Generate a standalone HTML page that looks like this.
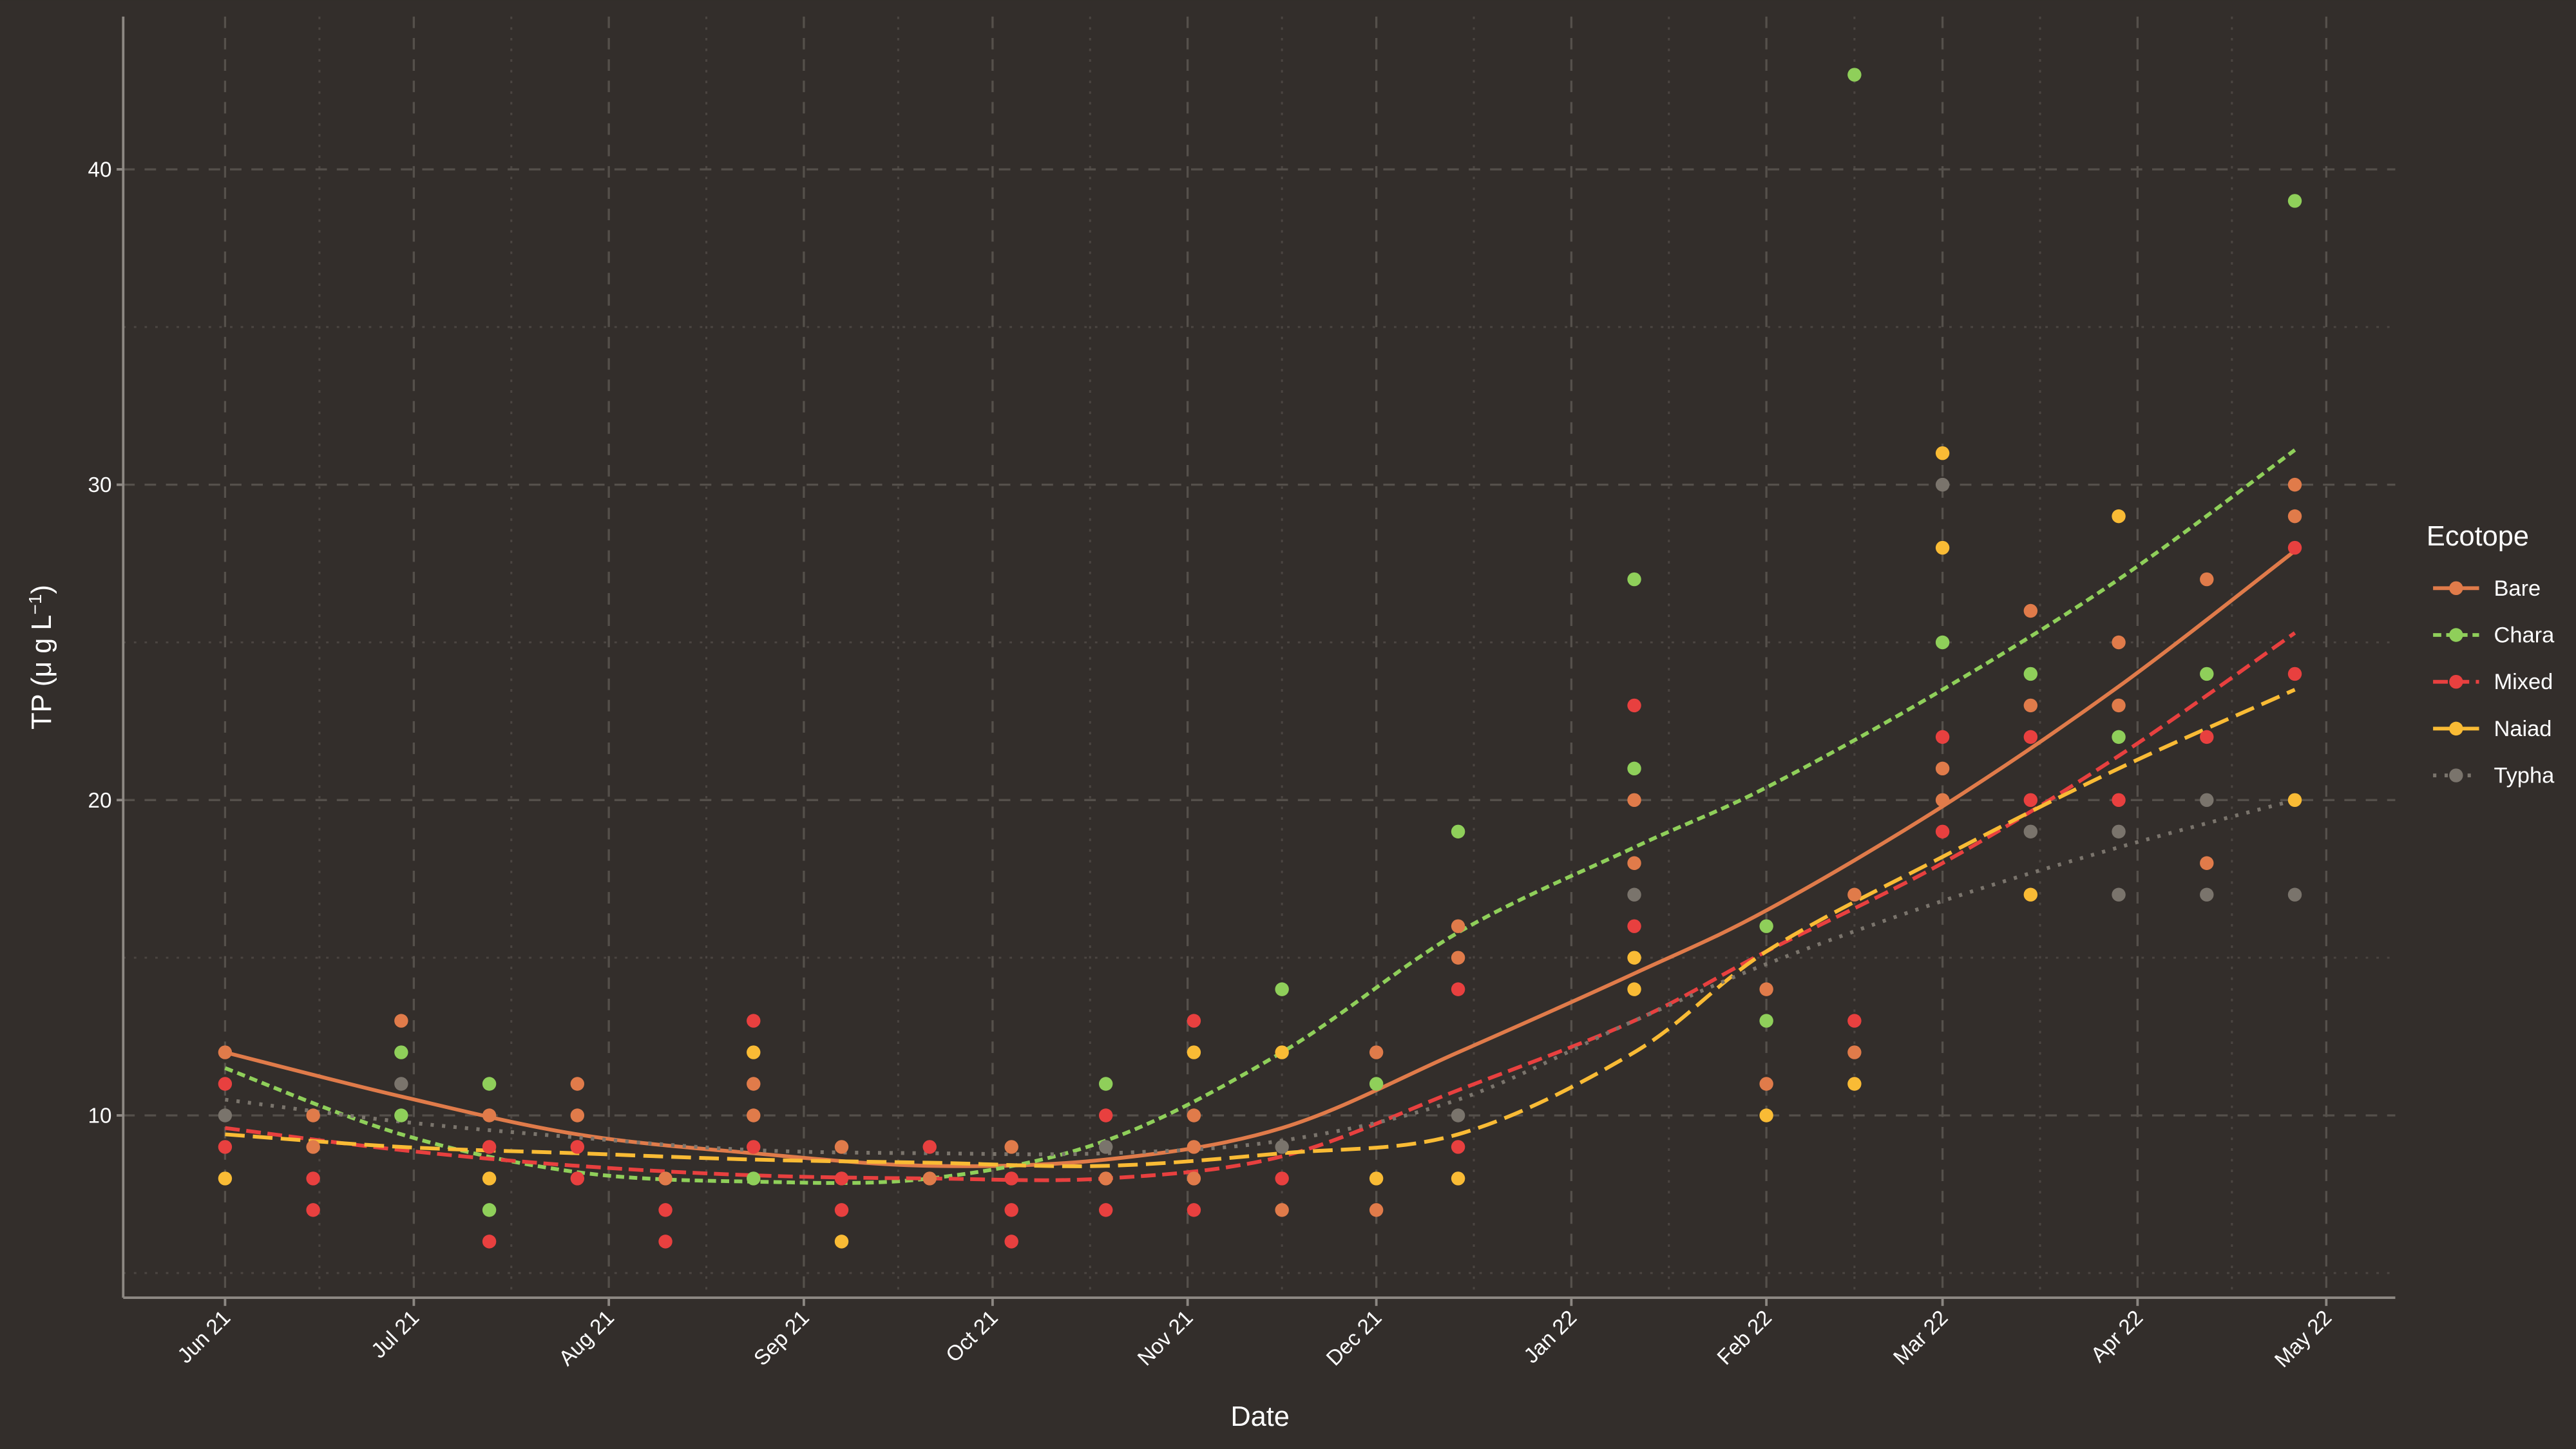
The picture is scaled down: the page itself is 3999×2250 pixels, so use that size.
<!DOCTYPE html>
<html><head><meta charset="utf-8"><style>
html,body{margin:0;padding:0;background:#332e2b;}
svg{display:block;font-family:"Liberation Sans",sans-serif;}
</style></head><body>
<svg id="chart" width="3999" height="2250" viewBox="0 0 1568 882" xmlns="http://www.w3.org/2000/svg">
<rect x="0" y="0" width="1568" height="882" fill="#332e2b"/>
<g id="grid"></g>
<g id="lines"></g>
<g id="points"></g>
<g id="axes"></g>
<text x="767" y="868" fill="#ffffff" font-size="17" text-anchor="middle">Date</text>
<text transform="translate(31,400) rotate(-90)" fill="#ffffff" font-size="17" text-anchor="middle">TP (μ g L<tspan dy="-6" font-size="11">−1</tspan><tspan dy="6">)</tspan></text>
<g id="legend"></g>
</svg>
<script>
// ---- data ----
const seriesNames = ["Bare","Chara","Mixed","Naiad","Typha"];
const tickLabels = ["Jun 21","Jul 21","Aug 21","Sep 21","Oct 21","Nov 21","Dec 21","Jan 22","Feb 22","Mar 22","Apr 22","May 22"];
const tickDays = [0,30,61,92,122,153,183,214,245,273,304,334];
const yTicks = [10,20,30,40];
const yMinor = [5,15,25,35];
// points: [day, value] per ecotope
const barePts = [[0,12],[14,10],[14,9],[28,13],[42,10],[56,11],[56,10],[70,8],[84,11],[84,10],[98,9],[112,8],[125,9],[140,8],[154,10],[154,9],[154,8],[168,7],[183,12],[183,7],[196,16],[196,15],[224,20],[224,18],[245,14],[245,11],[259,17],[259,12],[273,21],[273,20],[287,26],[287,23],[301,25],[301,23],[315,27],[315,18],[329,30],[329,29]];
const charaPts = [[28,12],[28,10],[42,11],[42,7],[84,8],[140,11],[168,14],[183,11],[196,19],[224,27],[224,21],[245,16],[245,13],[259,43],[273,25],[287,24],[301,22],[315,24],[329,39]];
const mixedPts = [[0,11],[0,9],[14,8],[14,7],[42,9],[42,6],[56,9],[56,8],[70,7],[70,6],[84,13],[84,9],[98,8],[98,7],[112,9],[125,8],[125,7],[125,6],[140,10],[140,7],[154,13],[154,7],[168,8],[196,14],[196,9],[224,23],[224,16],[259,13],[273,22],[273,19],[287,22],[287,20],[301,20],[315,22],[329,28],[329,24]];
const naiadPts = [[0,8],[42,8],[84,12],[98,6],[154,12],[168,12],[183,8],[196,8],[224,15],[224,14],[245,10],[259,11],[273,31],[273,28],[287,17],[301,29],[329,20]];
const typhaPts = [[0,10],[28,11],[140,9],[168,9],[196,10],[224,17],[273,30],[287,19],[301,19],[301,17],[315,20],[315,17],[329,17]];
// smooth fits
const fitDays = [0,28,56,84,112,140,168,196,224,245,273,301,329];
const bareFit  = [12.0,10.6,9.4,8.8,8.4,8.6,9.6,12.0,14.5,16.5,19.8,23.6,27.9];
const charaFit = [11.5,9.4,8.2,7.9,8.0,9.2,12.0,15.8,18.5,20.4,23.5,27.0,31.1];
const mixedFit = [9.6,8.9,8.4,8.1,8.0,8.0,8.7,10.8,13.0,15.2,18.0,21.4,25.3];
const naiadFit = [9.4,9.0,8.8,8.6,8.5,8.4,8.8,9.4,12.0,15.2,18.2,21.0,23.5];
const typhaFit = [10.5,9.8,9.3,8.9,8.8,8.8,9.2,10.5,13.0,14.8,16.8,18.5,20.0];

// ---- layout ----
const L=75,R=1458,T=10,B=790;
const X0=137, PXD=(1416-137)/334;
function xs(d){return X0+d*PXD;}
function ys(v){return 679-(v-10)*19.2;}
const colors=["#e07b4a","#8fcf5a","#e8403f","#f9bb35","#7a746c"];
const dashes=["","5,3","9,4","12,5","2,5"];
const NS="http://www.w3.org/2000/svg";
function mk(tag,attrs,parent){const e=document.createElementNS(NS,tag);for(const k in attrs)e.setAttribute(k,attrs[k]);parent.appendChild(e);return e;}

const grid=document.getElementById('grid');
yMinor.forEach(v=>{const l=mk('line',{x1:L,x2:R,y1:ys(v),y2:ys(v),stroke:'#4b4541','stroke-width':1.2,'stroke-dasharray':'1.5,5'},grid);

});
for(let i=0;i<tickDays.length-1;i++){const d=(tickDays[i]+tickDays[i+1])/2;const l=mk('line',{x1:xs(d),x2:xs(d),y1:T,y2:B,stroke:'#4b4541','stroke-width':1.2,'stroke-dasharray':'1.5,5'},grid);

}
yTicks.forEach(v=>{const l=mk('line',{x1:L,x2:R,y1:ys(v),y2:ys(v),stroke:'#55504b','stroke-width':1.3,'stroke-dasharray':'7,6'},grid);

});
tickDays.forEach(d=>{const l=mk('line',{x1:xs(d),x2:xs(d),y1:T,y2:B,stroke:'#55504b','stroke-width':1.3,'stroke-dasharray':'7,6'},grid);

});

const lines=document.getElementById('lines');
const fits=[bareFit,charaFit,mixedFit,naiadFit,typhaFit];
function smoothPath(pts){let d=`M${pts[0][0]},${pts[0][1]}`;for(let i=0;i<pts.length-1;i++){const p0=pts[i-1]||pts[i],p1=pts[i],p2=pts[i+1],p3=pts[i+2]||p2;
const c1=[p1[0]+(p2[0]-p0[0])/6,p1[1]+(p2[1]-p0[1])/6],c2=[p2[0]-(p3[0]-p1[0])/6,p2[1]-(p3[1]-p1[1])/6];
d+=` C${c1[0]},${c1[1]} ${c2[0]},${c2[1]} ${p2[0]},${p2[1]}`;}return d;}
fits.forEach((f,i)=>{const pts=f.map((v,j)=>[xs(fitDays[j]),ys(v)]);
const p=mk('path',{d:smoothPath(pts),fill:'none',stroke:colors[i],'stroke-width':2.3,'stroke-dasharray':dashes[i]},lines);

});

const ptsG=document.getElementById('points');
const allPts=[barePts,charaPts,mixedPts,naiadPts,typhaPts];
allPts.forEach((arr,i)=>arr.forEach(p=>{const c=mk('circle',{cx:xs(p[0]),cy:ys(p[1]),r:4.2,fill:colors[i]},ptsG);

}));

const axes=document.getElementById('axes');
let a=mk('line',{x1:L,x2:L,y1:T,y2:B,stroke:'#8d8883','stroke-width':1.5},axes);


a=mk('line',{x1:L,x2:R,y1:B,y2:B,stroke:'#8d8883','stroke-width':1.5},axes);


yTicks.forEach(v=>{const t=mk('line',{x1:L-4,x2:L,y1:ys(v),y2:ys(v),stroke:'#8d8883','stroke-width':1.5},axes);


const tx=mk('text',{x:L-7,y:ys(v)+4.5,fill:'#ffffff','font-size':13,'text-anchor':'end'},axes);tx.textContent=v;

});
tickDays.forEach((d,i)=>{const t=mk('line',{x1:xs(d),x2:xs(d),y1:B,y2:B+5,stroke:'#8d8883','stroke-width':1.5},axes);


const tx=mk('text',{transform:`translate(${xs(d)+4},${B+13}) rotate(-45)`,fill:'#ffffff','font-size':13,'text-anchor':'end'},axes);tx.textContent=tickLabels[i];

});

const lg=document.getElementById('legend');
const lt=mk('text',{x:1477,y:332,fill:'#ffffff','font-size':17},lg);lt.textContent='Ecotope';


seriesNames.forEach((n,i)=>{const y=358+i*28.5;
const g=mk('g',{},lg);


mk('line',{x1:1481,x2:1509,y1:y,y2:y,stroke:colors[i],'stroke-width':2.3,'stroke-dasharray':dashes[i]},g);
mk('circle',{cx:1495,cy:y,r:4.2,fill:colors[i]},g);
const t=mk('text',{x:1518,y:y+4.5,fill:'#ffffff','font-size':13.5},g);t.textContent=n;});
</script>
</body></html>
